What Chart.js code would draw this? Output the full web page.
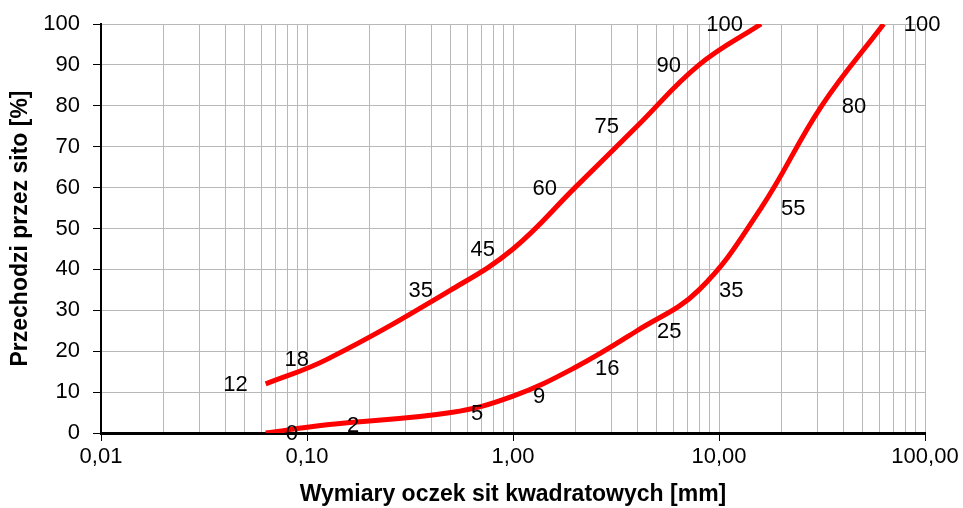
<!DOCTYPE html>
<html>
<head>
<meta charset="utf-8">
<script src="https://cdn.jsdelivr.net/npm/chart.js@4/dist/chart.umd.min.js"></script>
<style>
  html, body { margin: 0; padding: 0; background: #fff; }
  #wrap { width: 963px; height: 508px; }
</style>
</head>
<body>
<div id="wrap"><canvas id="chart"></canvas></div>
<script>
// DATA
// sieve sizes [mm] and passing [%]
const sieveUpper = [0.063, 0.125, 0.5, 1, 2, 4, 8, 16];
const passUpper = [12, 18, 35, 45, 60, 75, 90, 100];

const sieveLower = [0.063, 0.125, 0.5, 1, 2, 4, 8, 16, 31.5, 63];
const passLower = [0, 2, 5, 9, 16, 25, 35, 55, 80, 100];

// grid lines on the log axis
const decades = [0.01, 0.1, 1, 10];
const multipliers = [1, 2, 3, 4, 5, 6, 7, 8, 9];
const xMax = 100;
const yTicks = [0, 10, 20, 30, 40, 50, 60, 70, 80, 90, 100];

const xGrid = [];
decades.forEach(d => multipliers.forEach(m => xGrid.push(Number((d * m).toPrecision(3)))));
xGrid.push(xMax);

function isDecade(v) {
    return decades.indexOf(v) >= 0 || v === xMax;
}

const fontName = "'Liberation Sans', Arial, sans-serif";

// draws the value next to each point
const pointLabels = {
    id: 'pointLabels',
    afterDatasetsDraw(chart) {
        const ctx = chart.ctx;
        ctx.save();
        ctx.font = '22px ' + fontName;
        ctx.fillStyle = '#000';
        ctx.textBaseline = 'middle';
        chart.data.datasets.forEach((ds, i) => {
            const meta = chart.getDatasetMeta(i);
            meta.data.forEach((pt, j) => {
                const txt = String(ds.data[j].y);
                if (ds.labelSide === 'left') {
                    ctx.textAlign = 'right';
                    ctx.fillText(txt, pt.x - 18, pt.y + 1);
                } else {
                    ctx.textAlign = 'left';
                    ctx.fillText(txt, pt.x + 20, pt.y + 1);
                }
            });
        });
        ctx.restore();
    }
};

const ctx = document.getElementById('chart').getContext('2d');
Chart.defaults.font.family = fontName;
Chart.defaults.font.size = 22;
Chart.defaults.color = '#000';

new Chart(ctx, {
    type: 'line',
    data: {
        datasets: [
            {
                data: sieveUpper.map((x, i) => ({x: x, y: passUpper[i]})),
                borderColor: '#ff0000',
                borderWidth: 5,
                pointRadius: 0,
                tension: 0.4,
                labelSide: 'left'
            },
            {
                data: sieveLower.map((x, i) => ({x: x, y: passLower[i]})),
                borderColor: '#ff0000',
                borderWidth: 5,
                pointRadius: 0,
                tension: 0.4,
                labelSide: 'right'
            }
        ]
    },
    options: {
        responsive: true,
        maintainAspectRatio: false,
        animation: false,
        layout: {padding: {top: 23, right: 38, left: 0, bottom: 0}},
        plugins: {
            legend: {display: false},
            tooltip: {enabled: false}
        },
        scales: {
            x: {
                type: 'logarithmic',
                min: 0.01,
                max: xMax,
                afterBuildTicks: function(scale) {
                    scale.ticks = xGrid.map(v => ({value: v, major: isDecade(v)}));
                },
                afterFit: function(scale) { scale.height = 75; },
                grid: {
                    color: '#b8b8b8',
                    lineWidth: 1,
                    tickLength: 8,
                    tickColor: c => (c.tick && isDecade(c.tick.value)) ? '#000' : 'rgba(0,0,0,0)'
                },
                border: {color: '#000', width: 3},
                ticks: {
                    autoSkip: false,
                    maxRotation: 0,
                    padding: 3,
                    callback: function(value) {
                        return isDecade(value) ? value.toFixed(2).replace('.', ',') : '';
                    }
                },
                title: {
                    display: true,
                    text: 'Wymiary oczek sit kwadratowych [mm]',
                    font: {size: 23, weight: 'bold'},
                    padding: {top: 0, bottom: 0}
                }
            },
            y: {
                min: 0,
                max: 100,
                afterBuildTicks: function(scale) {
                    scale.ticks = yTicks.map(v => ({value: v}));
                },
                afterFit: function(scale) { scale.width = 101; },
                grid: {
                    color: '#b8b8b8',
                    lineWidth: 1,
                    tickLength: 8,
                    tickColor: '#000'
                },
                border: {color: '#000', width: 2},
                ticks: {padding: 13, font: {size: 22, lineHeight: 1.0}},
                title: {
                    display: true,
                    text: 'Przechodzi przez sito [%]',
                    font: {size: 23, weight: 'bold'},
                    padding: {top: 7, bottom: 0}
                }
            }
        }
    },
    plugins: [pointLabels]
});
</script>
</body>
</html>
